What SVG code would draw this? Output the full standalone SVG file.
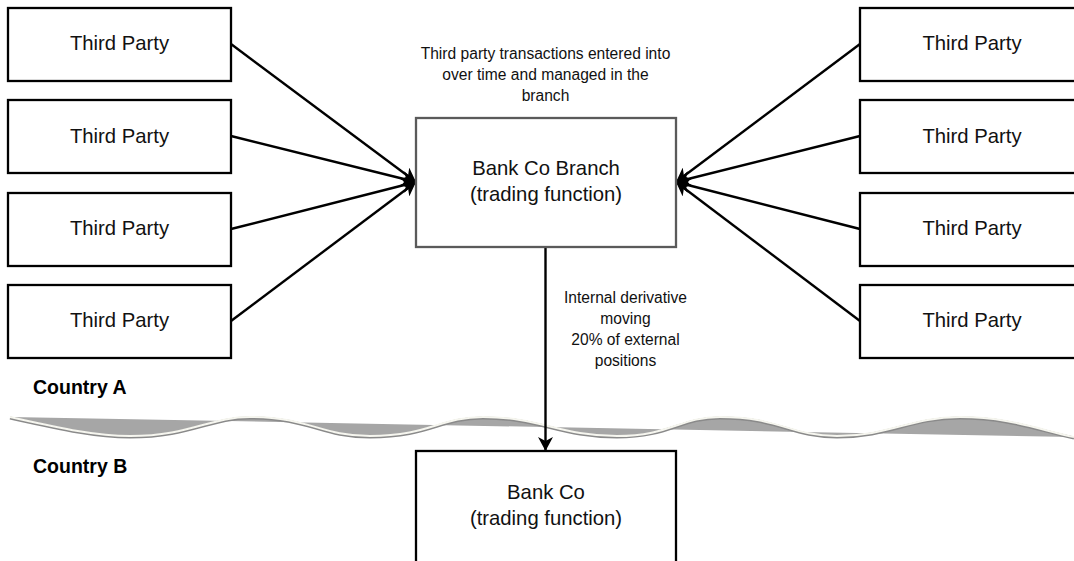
<svg xmlns="http://www.w3.org/2000/svg" width="1074" height="561" viewBox="0 0 1074 561">
<defs>
<style>
.box{fill:#fff;stroke:#000;stroke-width:2.3}
.gbox{fill:#fff;stroke:#5a5a5a;stroke-width:2.3}
.t{font-family:"Liberation Sans",Arial,sans-serif;font-size:20.3px;fill:#111;text-anchor:middle}
.s{font-family:"Liberation Sans",Arial,sans-serif;font-size:15.6px;fill:#111;text-anchor:middle}
.c{font-family:"Liberation Sans",Arial,sans-serif;font-size:19.5px;font-weight:bold;fill:#000}
.ln{stroke:#000;stroke-width:2.4;fill:none;marker-end:url(#ah)}
</style>
<marker id="ah" markerUnits="userSpaceOnUse" markerWidth="15" markerHeight="15" refX="14" refY="7.5" orient="auto" viewBox="0 0 15 15">
<path d="M0,0 L14,7.5 L0,15 L4,7.5 Z" fill="#000"/>
</marker>
</defs>
<rect width="1074" height="561" fill="#fff"/>

<g id="border">
<path d="M10,417 C60,428 95,436 130,436 C190,436 210,417 250,417 C310,417 320,436 370,436 C430,436 440,417 483,417 C540,417 560,436 617,436 C670,436 680,417 720,417 C780,417 790,436 837,436 C890,436 910,417 960,417 C1010,417 1040,430 1074,437 Z" fill="#a6a6a6"/>
<path d="M10,417 C60,428 95,436 130,436 C190,436 210,417 250,417 C310,417 320,436 370,436 C430,436 440,417 483,417 C540,417 560,436 617,436 C670,436 680,417 720,417 C780,417 790,436 837,436 C890,436 910,417 960,417 C1010,417 1040,430 1074,437" fill="none" stroke="#8a8a8a" stroke-width="3" transform="translate(0,1)"/>
<path d="M10,417 C60,428 95,436 130,436 C190,436 210,417 250,417 C310,417 320,436 370,436 C430,436 440,417 483,417 C540,417 560,436 617,436 C670,436 680,417 720,417 C780,417 790,436 837,436 C890,436 910,417 960,417 C1010,417 1040,430 1074,437" fill="none" stroke="#f6f6ef" stroke-width="2"/>
</g>

<g id="connectors">
<line class="ln" x1="231" y1="44" x2="416" y2="182"/>
<line class="ln" x1="231" y1="136" x2="416" y2="182"/>
<line class="ln" x1="231" y1="229" x2="416" y2="182"/>
<line class="ln" x1="231" y1="321" x2="416" y2="182"/>
<line class="ln" x1="860" y1="44" x2="676" y2="182"/>
<line class="ln" x1="860" y1="136" x2="676" y2="182"/>
<line class="ln" x1="860" y1="229" x2="676" y2="182"/>
<line class="ln" x1="860" y1="321" x2="676" y2="182"/>
<line class="ln" x1="545.5" y1="248" x2="545.5" y2="451"/>
</g>

<g id="tpL1"><rect class="box" x="8" y="8" width="223" height="73"/><text class="t" x="119.5" y="50">Third Party</text></g>
<g id="tpL2"><rect class="box" x="8" y="100" width="223" height="73"/><text class="t" x="119.5" y="143">Third Party</text></g>
<g id="tpL3"><rect class="box" x="8" y="193" width="223" height="73"/><text class="t" x="119.5" y="235">Third Party</text></g>
<g id="tpL4"><rect class="box" x="8" y="285" width="223" height="73"/><text class="t" x="119.5" y="327">Third Party</text></g>

<g id="tpR1"><rect class="box" x="860" y="8" width="223" height="73"/><text class="t" x="972" y="50">Third Party</text></g>
<g id="tpR2"><rect class="box" x="860" y="100" width="223" height="73"/><text class="t" x="972" y="143">Third Party</text></g>
<g id="tpR3"><rect class="box" x="860" y="193" width="223" height="73"/><text class="t" x="972" y="235">Third Party</text></g>
<g id="tpR4"><rect class="box" x="860" y="285" width="223" height="73"/><text class="t" x="972" y="327">Third Party</text></g>

<g id="branch">
<rect class="gbox" x="416" y="118" width="260" height="129"/>
<text class="t" x="546" y="175">Bank Co Branch</text>
<text class="t" x="546" y="201">(trading function)</text>
</g>

<g id="bankco">
<rect class="box" x="416" y="451" width="260" height="120"/>
<text class="t" x="546" y="499">Bank Co</text>
<text class="t" x="546" y="525">(trading function)</text>
</g>

<g id="labels">
<text class="s" x="545.5" y="59">Third party transactions entered into</text>
<text class="s" x="545.5" y="80">over time and managed in the</text>
<text class="s" x="545.5" y="101">branch</text>
<text class="s" x="625.5" y="303">Internal derivative</text>
<text class="s" x="625.5" y="324">moving</text>
<text class="s" x="625.5" y="345"> 20% of external</text>
<text class="s" x="625.5" y="366">positions</text>
<text class="c" x="33" y="394">Country A</text>
<text class="c" x="33" y="473">Country B</text>
</g>
</svg>
